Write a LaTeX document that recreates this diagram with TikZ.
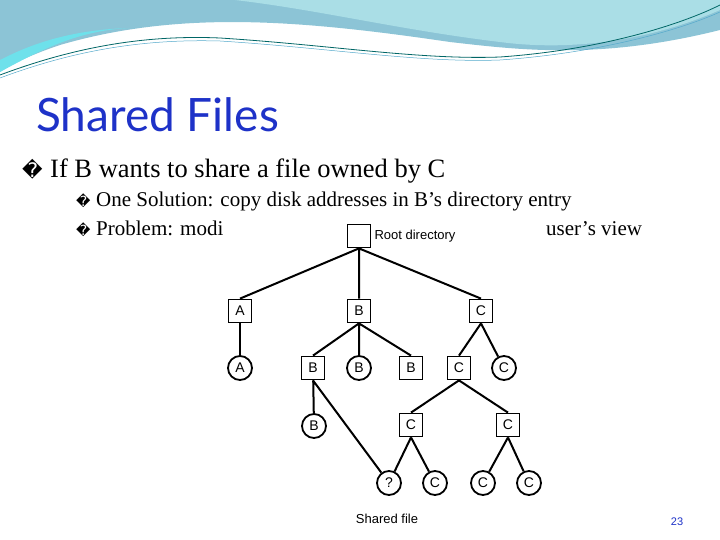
\documentclass[tikz,border=0pt]{standalone}
\usepackage{fontspec}
\setmainfont{Liberation Serif}
\newfontfamily\titlefont{Lato}
\newfontfamily\helv{Liberation Sans}
\newfontfamily\dejavu{DejaVu Sans}
\definecolor{waveA}{RGB}{140,196,214}
\definecolor{waveB}{RGB}{170,222,230}
\definecolor{waveC}{RGB}{110,225,235}
\definecolor{titleblue}{RGB}{30,50,200}
\begin{document}
\begin{tikzpicture}[x=1pt,y=-1pt,
  dbox/.style={draw,line width=1.8pt,minimum size=23pt,inner sep=0pt,font=\helv\fontsize{14}{16}\selectfont,fill=white},
  fcirc/.style={draw,circle,line width=1.8pt,minimum size=24pt,inner sep=0pt,font=\helv\fontsize{14}{16}\selectfont,fill=white},
  edge/.style={line width=2pt}]
\useasboundingbox (0,0) rectangle (720,540);
\fill[white] (0,0) rectangle (720,540);
% header waves
\fill[waveA] (0,0) -- (720,0) -- (720,30) .. controls (600,60) and (520,50) .. (450,42) .. controls (300,20) and (180,10) .. (60,45) .. controls (30,55) and (10,65) .. (0,72) -- cycle;
\fill[waveB] (235,0) -- (720,0) -- (720,10) .. controls (640,45) and (560,50) .. (500,42) .. controls (400,30) and (320,10) .. (235,0) -- cycle;
\fill[waveC] (0,72) .. controls (40,50) and (80,30) .. (130,28) .. controls (60,30) and (20,50) .. (0,60) -- cycle;
\draw[teal!80!black,line width=0.8pt] (0,75) .. controls (80,45) and (150,35) .. (220,38) .. controls (330,45) and (420,60) .. (500,57) .. controls (600,50) and (680,25) .. (720,5);
\draw[cyan!60!gray,line width=0.5pt] (0,78) .. controls (80,48) and (150,39) .. (220,41) .. controls (330,48) and (420,63) .. (500,60) .. controls (600,53) and (680,30) .. (720,12);
% texts
\node[anchor=base west,inner sep=0,text=titleblue,font=\titlefont\fontsize{46}{50}\selectfont] (title) at (36,132) {Shared Files};
\node[anchor=base west,inner sep=0,font=\fontsize{20}{24}\selectfont\dejavu] (bl1) at (22,178) {�};
\node[anchor=base west,inner sep=0,font=\fontsize{26.5}{28}\selectfont] (b1) at (50,178) {If B wants to share a file owned by C};
\node[anchor=base west,inner sep=0,font=\fontsize{14}{16}\selectfont\dejavu] (bl2) at (76,207) {�};
\node[anchor=base west,inner sep=0,font=\fontsize{21}{24}\selectfont] (b2) at (96,207) {One Solution: copy disk addresses in B’s directory entry};
\node[anchor=base west,inner sep=0,font=\fontsize{14}{16}\selectfont\dejavu] (bl3) at (76,236) {�};
\node[anchor=base west,inner sep=0,font=\fontsize{21}{24}\selectfont] (b3) at (96,236) {Problem: modi};
\node[anchor=base west,inner sep=0,font=\fontsize{21}{24}\selectfont] (b3b) at (546,236) {user’s view};
\node[text=titleblue,font=\helv\fontsize{11}{12}\selectfont] (pg) at (677,522) {23};
% tree
\node[dbox] (root) at (359,236) {};
\node[anchor=west,font=\helv\fontsize{13}{14}\selectfont] (rl) at (371,236) {Root directory};
\node[dbox] (dA) at (240,311) {A};
\node[dbox] (dB) at (359,311) {B};
\node[dbox] (dC) at (481,311) {C};
\node[fcirc] (fA) at (240,368) {A};
\node[dbox] (dB2) at (313,368) {B};
\node[fcirc] (fB) at (359,368) {B};
\node[dbox] (dB3) at (411,368) {B};
\node[dbox] (dC2) at (459,368) {C};
\node[fcirc] (fC1) at (504,368) {C};
\node[fcirc] (fB2) at (314,426) {B};
\node[dbox] (dC3) at (411,425) {C};
\node[dbox] (dC4) at (508,425) {C};
\node[fcirc] (fq) at (389,483) {?};
\node[fcirc] (fC2) at (435,483) {C};
\node[fcirc] (fC3) at (483,483) {C};
\node[fcirc] (fC4) at (529,483) {C};
\node[font=\helv\fontsize{13}{14}\selectfont] (sf) at (387,519) {Shared file};
\draw[edge] (root.south) -- (dA.north) (root.south) -- (dB.north) (root.south) -- (dC.north);
\draw[edge] (dA) -- (fA);
\draw[edge] (dB.south) -- (dB2.north) (dB) -- (fB) (dB.south) -- (dB3.north);
\draw[edge] (dC.south) -- (dC2.north) (dC.south) -- (fC1);
\draw[edge] (dB2) -- (fB2) (dB2.south) -- (fq);
\draw[edge] (dC2.south) -- (dC3.north) (dC2.south) -- (dC4.north);
\draw[edge] (dC3.south) -- (fq) (dC3.south) -- (fC2);
\draw[edge] (dC4.south) -- (fC3) (dC4.south) -- (fC4);
\end{tikzpicture}
\end{document}
